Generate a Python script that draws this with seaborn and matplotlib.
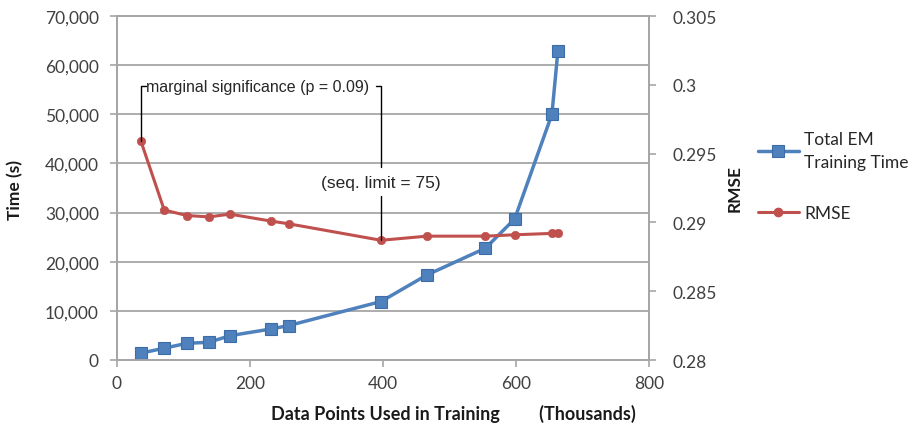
import matplotlib
matplotlib.use("Agg")
import matplotlib.pyplot as plt
import seaborn as sns
from matplotlib.lines import Line2D
from matplotlib.ticker import FuncFormatter

# ---- data ----
data_points = [36, 71, 105, 138, 170, 231, 258, 397, 466, 554, 598, 654, 663]   # thousands
train_time = [1400, 2400, 3400, 3600, 4950, 6300, 7000, 11900, 17300, 22750, 28700, 50000, 62900]
rmse = [0.2959, 0.2909, 0.2905, 0.2904, 0.2906, 0.2901, 0.2899, 0.2887, 0.2890, 0.2890, 0.2891, 0.2892, 0.2892]

x_ticks = [0, 200, 400, 600, 800]
time_ticks = [0, 10000, 20000, 30000, 40000, 50000, 60000, 70000]
rmse_ticks = [0.28, 0.285, 0.29, 0.295, 0.3, 0.305]
rmse_tick_labels = ["0.28", "0.285", "0.29", "0.295", "0.3", "0.305"]

series_labels = ["Total EM\nTraining Time", "RMSE"]

BLUE = "#4F81BD"
BLUE_EDGE = "#3C6DA8"
RED = "#C0504D"
GRID = "#A6A6A6"
TICKCOL = "#404040"

sns.set_theme(style="white")
plt.rcParams["font.family"] = ["Lato", "DejaVu Sans"]

fig = plt.figure(figsize=(9.17, 4.31), dpi=100)
fig.patch.set_facecolor("white")
ax = fig.add_axes([117 / 917, 70 / 431, 532 / 917, 344 / 431])
ax2 = ax.twinx()

sns.lineplot(x=data_points, y=train_time, ax=ax, color=BLUE, marker="s",
             markersize=9, linewidth=2.5, markeredgecolor=BLUE_EDGE,
             markeredgewidth=0.8, legend=False, zorder=3)
sns.lineplot(x=data_points, y=rmse, ax=ax2, color=RED, marker="o",
             markersize=6, linewidth=2.2, markeredgecolor=RED,
             markeredgewidth=0.5, legend=False, zorder=3)

ax.set_xlim(0, 800)
ax.set_ylim(0, 70000)
ax2.set_ylim(0.28, 0.305)
ax.set_xticks(x_ticks)
ax.set_yticks(time_ticks)
ax.yaxis.set_major_formatter(FuncFormatter(lambda v, p: f"{int(v):,}"))
ax2.set_yticks(rmse_ticks)
ax2.set_yticklabels(rmse_tick_labels)

ax.grid(axis="y", color=GRID, linewidth=1.3)
ax.grid(axis="x", visible=False)
ax.set_axisbelow(True)

for a in (ax, ax2):
    for side, sp in a.spines.items():
        sp.set_color(GRID)
        sp.set_linewidth(1.3)
    a.tick_params(colors=GRID, labelcolor=TICKCOL, labelsize=12.5,
                  length=5, width=1.2, direction="out")
ax.tick_params(axis="y", pad=8, left=True)
ax.tick_params(axis="x", pad=6, bottom=True)
ax2.tick_params(axis="y", pad=12, right=True)

ax.set_ylabel("Time (s)", fontsize=12.5, fontweight="bold", color="#1a1a1a")
ax.yaxis.set_label_coords(-0.176, 0.497)
ax.set_xlabel("Data Points Used in Training         (Thousands)", fontsize=13,
              fontweight="bold", color="#1a1a1a")
ax.xaxis.set_label_coords(0.633, -0.127)
ax2.set_ylabel("RMSE", fontsize=12.5, fontweight="bold", color="#1a1a1a", rotation=90)
ax2.yaxis.set_label_coords(1.145, 0.50)

# ---- data-label callouts ----
MARG_Y = 0.2999
SEQ_Y = 0.2929
x0, r0 = data_points[0], rmse[0]
x7, r7 = data_points[7], rmse[7]
ann_font = ["Liberation Sans", "DejaVu Sans"]
ax2.plot([x0, x0, x0 + 7], [r0, MARG_Y, MARG_Y], color="black", lw=1.0, zorder=4)
ax2.text(x0 + 8, MARG_Y, "marginal significance (p = 0.09)", ha="left", va="center",
         fontsize=11.5, family=ann_font, color="#262626")
ax2.plot([x7 - 7, x7, x7], [MARG_Y, MARG_Y, 0.2940], color="black", lw=1.0, zorder=4)
ax2.text(x7, SEQ_Y, "(seq. limit = 75)", ha="center", va="center",
         fontsize=12.5, family=ann_font, color="#262626")
ax2.plot([x7, x7], [0.2919, r7], color="black", lw=1.0, zorder=4)

# ---- legend ----
handles = [
    Line2D([], [], color=BLUE, lw=2.5, marker="s", markersize=9,
           markeredgecolor=BLUE_EDGE, markeredgewidth=0.8),
    Line2D([], [], color=RED, lw=2.2, marker="o", markersize=6,
           markeredgecolor=RED),
]
leg = fig.legend(handles, series_labels, loc="upper left",
                 bbox_to_anchor=(742 / 917, 1 - 116 / 431), frameon=False,
                 fontsize=12.5, handlelength=2.4, handletextpad=0.3, labelspacing=2.0,
                 labelcolor="#262626")
for t in leg.get_texts():
    t.set_linespacing(1.6)

fig.savefig("out.png", dpi=100, facecolor="white")
